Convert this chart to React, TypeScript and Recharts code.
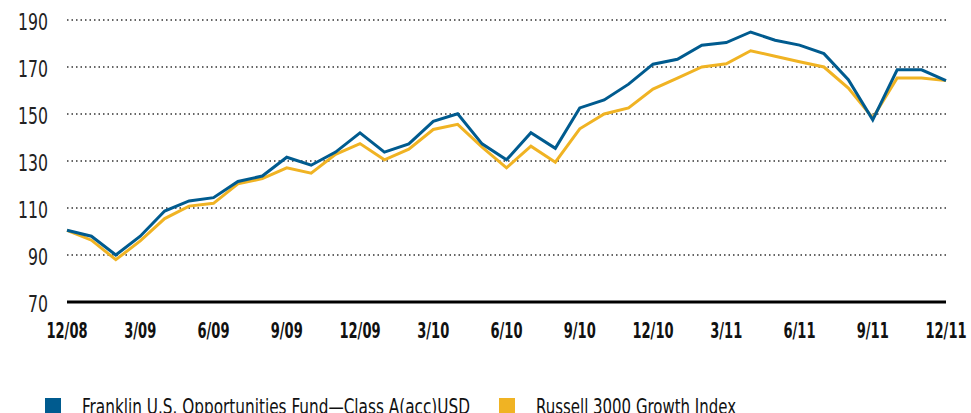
import { CartesianGrid, Line, LineChart, ReferenceLine, XAxis, YAxis } from 'recharts';

const months = [
	'12/08', '1/09', '2/09', '3/09', '4/09', '5/09', '6/09', '7/09', '8/09', '9/09', '10/09', '11/09',
	'12/09', '1/10', '2/10', '3/10', '4/10', '5/10', '6/10', '7/10', '8/10', '9/10', '10/10', '11/10',
	'12/10', '1/11', '2/11', '3/11', '4/11', '5/11', '6/11', '7/11', '8/11', '9/11', '10/11', '11/11',
	'12/11',
];

const fundValues = [
	100.5, 98, 90, 98, 108.7, 113, 114.4, 121.3, 123.6, 131.6, 128.2, 133.8, 142, 133.8, 137.3, 146.9,
	150.1, 137.3, 130.5, 142, 135.4, 152.6, 156, 162.7, 171.2, 173.3, 179.3, 180.4, 184.9, 181.4, 179.3,
	175.7, 164.6, 147.5, 168.8, 168.8, 164.2,
];

const indexValues = [
	100.5, 96.3, 88, 96, 105.5, 110.8, 112, 120.3, 122.5, 127.1, 124.8, 132.8, 137.4, 130.5, 135, 143.4,
	145.6, 135.9, 127.1, 136.3, 129.5, 143.7, 150, 152.6, 160.6, 165.3, 170, 171.4, 176.9, 174.6, 172.2,
	170, 161, 148.3, 165.3, 165.3, 164.2,
];

const yTicks = [70, 90, 110, 130, 150, 170, 190];

const seriesNames = ['Franklin U.S. Opportunities Fund\u2014Class A(acc)USD', 'Russell 3000 Growth Index'];

const BLUE = '#005b8f';
const GOLD = '#f0b323';
const FONT = "'DejaVu Sans Condensed', 'Liberation Sans Narrow', sans-serif";

const data = months.map((m, i) => ({ month: m, fund: fundValues[i], index: indexValues[i] }));

// condensed look: squeeze the glyphs horizontally
function XTick({ x, y, payload }: any) {
	return (
		<g transform={`translate(${x},${y}) scale(0.66,1)`}>
			<text x={0} y={0} dy='0.71em' textAnchor='middle' fill='#111' fontSize={22} fontWeight={700} fontFamily={FONT}>
				{payload.value}
			</text>
		</g>
	);
}

function YTick({ x, y, payload }: any) {
	return (
		<g transform={`translate(${x},${y + 1.5}) scale(0.76,1)`}>
			<text x={0} y={0} dy='0.355em' textAnchor='end' fill='#222' fontSize={23} fontFamily={FONT}>
				{payload.value}
			</text>
		</g>
	);
}

function LegendItem({ x, color, label, width }: { x: number; color: string; label: string; width: number }) {
	const sx = 0.77;
	return (
		<g>
			<rect x={x} y={398} width={16} height={20} fill={color} />
			<g transform={`translate(${x + 37},414) scale(${sx},1)`}>
				<text x={0} y={0} fontSize={22} fontFamily={FONT} fill='#111' textLength={width / sx} lengthAdjust='spacingAndGlyphs'>
					{label}
				</text>
			</g>
		</g>
	);
}

export default function App() {
	return (
		<div style={{ position: 'absolute', left: 0, top: 0, width: 971, height: 413, overflow: 'hidden', background: '#fff' }}>
			<LineChart width={971} height={413} data={data} margin={{ top: 20, right: 25, left: 0, bottom: 0 }}>
				<CartesianGrid vertical={false} stroke='#333' strokeDasharray='1.5 3' strokeWidth={1.5} />
				<XAxis
					dataKey='month'
					interval={2}
					height={111}
					axisLine={false}
					tickLine={false}
					tickSize={0}
					tickMargin={20}
					tick={<XTick />}
				/>
				<YAxis
					domain={[70, 190]}
					ticks={yTicks}
					width={67}
					axisLine={false}
					tickLine={false}
					tickSize={0}
					tickMargin={19}
					tick={<YTick />}
				/>
				<ReferenceLine y={70} stroke='#000' strokeWidth={3} />
				<Line type='linear' dataKey='index' stroke={GOLD} strokeWidth={3} dot={false} isAnimationActive={false} />
				<Line type='linear' dataKey='fund' stroke={BLUE} strokeWidth={3} dot={false} isAnimationActive={false} />
			</LineChart>
			<svg width={971} height={413} style={{ position: 'absolute', left: 0, top: 0, pointerEvents: 'none' }}>
				<LegendItem x={45} color={BLUE} label={seriesNames[0]} width={388} />
				<LegendItem x={499} color={GOLD} label={seriesNames[1]} width={200} />
			</svg>
		</div>
	);
}
